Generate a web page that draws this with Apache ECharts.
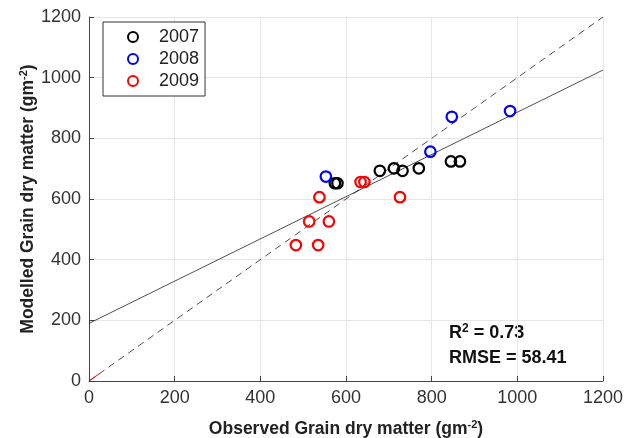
<!DOCTYPE html>
<html><head><meta charset="utf-8">
<script src="https://cdn.jsdelivr.net/npm/echarts@6/dist/echarts.min.js"></script>
<style>html,body{margin:0;padding:0;background:#fff}#c{width:628px;height:438px}</style>
</head><body><div id="c"></div>
<script>
var obs2007 = [574, 580, 679, 712, 732, 770, 845, 866];
var mod2007 = [652, 652, 693, 701, 693, 701, 724, 724];
var obs2008 = [553, 797, 847, 983];
var mod2008 = [674, 756, 871, 890];
var obs2009 = [483, 514, 535, 538, 560, 634, 643, 726];
var mod2009 = [448, 526, 448, 606, 526, 656, 656, 606];
var fitIntercept = 190, fitSlope = 0.696;
var axisTicks = [0, 200, 400, 600, 800, 1000, 1200];
var r2Value = '0.73', rmseText = 'RMSE = 58.41';

function pts(a, b) { return a.map(function (v, i) { return [v, b[i]]; }); }
var font = 'Liberation Sans, Arial, sans-serif';
function sc(name, x, y, c) {
  return { name: name, type: 'scatter', data: pts(x, y), symbol: 'circle', symbolSize: 10.5,
    itemStyle: { color: 'rgba(0,0,0,0)', borderColor: c, borderWidth: 2.2, opacity: 1 }, z: 5 };
}
var richName = { a: { fontFamily: font, fontSize: 17.5, fontWeight: 'bold', color: '#222' },
  s: { fontFamily: font, fontSize: 11, fontWeight: 'bold', color: '#222', verticalAlign: 'top', padding: [0,0,9,0] } };
var chart = echarts.init(document.getElementById('c'));
chart.setOption({
  animation: false,
  grid: { left: 89, right: 25, top: 17, bottom: 57, outerBoundsMode: 'none', containLabel: false },
  legend: {
    orient: 'vertical', left: 103, top: 22, data: ['2007', '2008', '2009'],
    backgroundColor: '#fff', borderColor: '#333', borderWidth: 1,
    padding: [6, 6, 6, 24], itemWidth: 10, itemHeight: 10, itemGap: 4,
    textStyle: { fontFamily: font, fontSize: 18, color: '#222', padding: [0, 0, 0, 16] }
  },
  xAxis: {
    type: 'value', min: 0, max: 1200, interval: 200,
    name: '{a|Observed Grain dry matter (gm}{s|-2}{a|)}', nameLocation: 'middle', nameGap: 38,
    nameMoveOverlap: false,
    nameTextStyle: { rich: richName },
    axisLine: { lineStyle: { color: '#444' } },
    axisTick: { inside: true, length: 5, lineStyle: { color: '#444' } },
    axisLabel: { fontFamily: font, fontSize: 18, color: '#333', margin: 8, formatter: function (v) { return String(v); } },
    splitLine: { lineStyle: { color: '#e6e6e6' } }
  },
  yAxis: {
    type: 'value', min: 0, max: 1200, interval: 200,
    name: '{a|Modelled Grain dry matter (gm}{s|-2}{a|)}', nameLocation: 'middle', nameGap: 51,
    nameMoveOverlap: false,
    nameTextStyle: { rich: richName },
    axisLine: { show: true, lineStyle: { color: '#444' } },
    axisTick: { show: true, inside: true, length: 5, lineStyle: { color: '#444' } },
    axisLabel: { fontFamily: font, fontSize: 18, color: '#333', margin: 8, formatter: function (v) { return String(v); } },
    splitLine: { lineStyle: { color: '#e6e6e6' } }
  },
  series: [
    sc('2007', obs2007, mod2007, '#000'),
    sc('2008', obs2008, mod2008, '#0000ff'),
    sc('2009', obs2009, mod2009, '#ff0000'),
    { type: 'line', data: [[0, fitIntercept], [1200, fitIntercept + fitSlope * 1200]], symbol: 'none',
      lineStyle: { color: '#222', width: 0.8 }, z: 3, silent: true },
    { type: 'line', data: [[0, 0], [1200, 1200]], symbol: 'none',
      lineStyle: { color: '#222', width: 0.8, type: [7, 5] }, z: 3, silent: true },
    { type: 'line', data: [[0, 0], [25, 25]], symbol: 'none',
      lineStyle: { color: '#ff0000', width: 1 }, z: 4, silent: true }
  ],
  graphic: [
    { type: 'text', left: 449, top: 323, style: { text: '{a|R}{s|2}{a| = ' + r2Value + '}',
      rich: { a: { fontFamily: font, fontSize: 18, fontWeight: 'bold', fill: '#111' },
        s: { fontFamily: font, fontSize: 12, fontWeight: 'bold', fill: '#111', verticalAlign: 'top', padding: [0,0,9,0] } } } },
    { type: 'text', left: 449, top: 349, style: { text: rmseText, fontFamily: font, fontSize: 18, fontWeight: 'bold', fill: '#111' } }
  ]
});
</script></body></html>
